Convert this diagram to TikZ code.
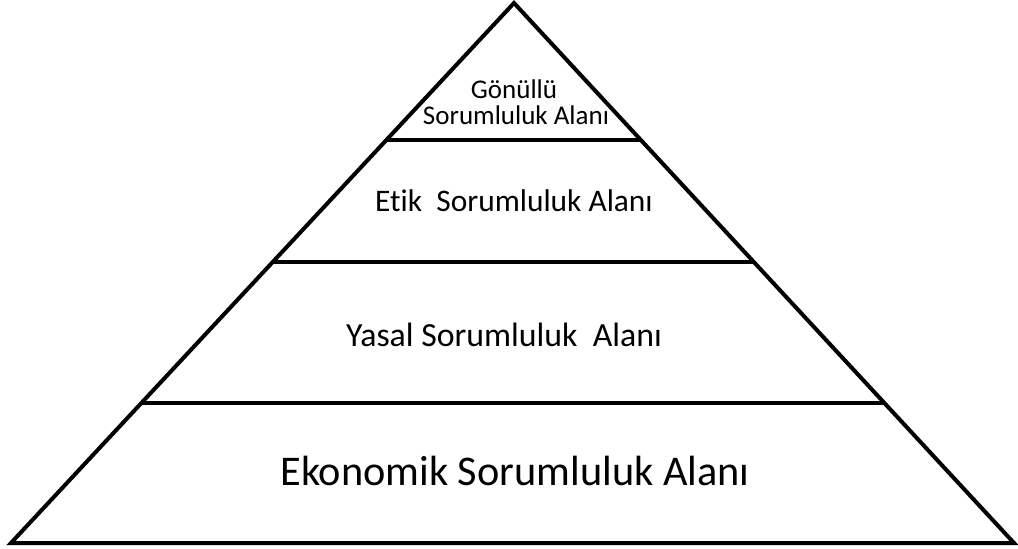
\documentclass[tikz,border=0pt]{standalone}
\usepackage{fontspec}
\setmainfont{Carlito}[Ligatures=NoCommon]
\usetikzlibrary{calc}
\begin{document}
\begin{tikzpicture}[x=1pt,y=-1pt,
  edge/.style={line width=4pt,black},
  lbl/.style={anchor=base,inner sep=0pt,text=black}]
\useasboundingbox (0,0) rectangle (1018,549);
\coordinate (apex) at (514,3);
\coordinate (bl) at (11,543);
\coordinate (br) at (1014,543);
\draw[edge] (apex) -- (bl) -- (br) -- cycle;
\coordinate (l1) at ($(apex)!0.2537!(bl)$);
\coordinate (r1) at ($(apex)!0.2537!(br)$);
\coordinate (l2) at ($(apex)!0.4796!(bl)$);
\coordinate (r2) at ($(apex)!0.4796!(br)$);
\coordinate (l3) at ($(apex)!0.7407!(bl)$);
\coordinate (r3) at ($(apex)!0.7407!(br)$);
\draw[edge] (l1) -- (r1);
\draw[edge] (l2) -- (r2);
\draw[edge] (l3) -- (r3);
\node[lbl,font=\fontsize{27}{30}\selectfont] (g1) at (514,98) {Gönüllü};
\node[lbl,font=\fontsize{27}{30}\selectfont] (g2) at (516,124) {Sorumluluk Alanı};
\node[lbl,font=\fontsize{31.4}{36}\selectfont] (etik) at (514,211) {Etik\ \ Sorumluluk Alanı};
\node[lbl,font=\fontsize{33.8}{40}\selectfont] (yasal) at (504,346) {Yasal Sorumluluk\ \ Alanı};
\node[lbl,font=\fontsize{42.3}{50}\selectfont] (eko) at (515,485) {Ekonomik Sorumluluk Alanı};
\end{tikzpicture}
\end{document}
